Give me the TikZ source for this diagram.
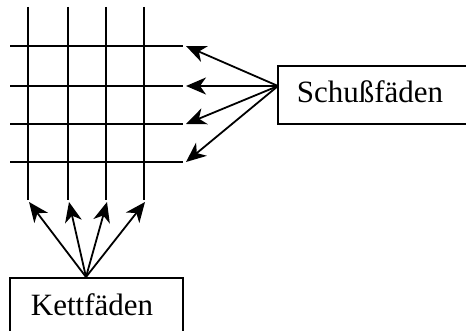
\documentclass[tikz,border=0pt]{standalone}
\usepackage{fontspec}
\setmainfont{Liberation Serif}
\usetikzlibrary{arrows.meta}
\begin{document}
\begin{tikzpicture}[x=1pt,y=-1pt,
  thread/.style={line width=2.2pt},
  label box/.style={draw,line width=2.2pt},
  pointer/.style={line width=1.8pt,-{Stealth[length=20pt 0,width=17pt 0,inset=6pt 0]}},
  caption/.style={font=\fontsize{31}{32}\selectfont,inner sep=0pt,anchor=base}]
\useasboundingbox (0,0) rectangle (466,331);
% warp threads (vertical)
\foreach \x [count=\i] in {28,68,106,144}{
  \draw[thread] (\x,7) -- (\x,200);
  \coordinate (w\i) at (\x+1,202);
}
% weft threads (horizontal)
\foreach \y [count=\i] in {46,86,124,162}{
  \draw[thread] (10,\y) -- (183,\y);
  \coordinate (s\i) at (186,\y);
}
% label boxes (running off the page edge)
\draw[label box] (278,66) rectangle (480,124);
\node[caption] (schuss) at (370,103) {Schußfäden};
\coordinate (sorigin) at (278,86);
\draw[label box] (10,278) rectangle (183,350);
\node[caption] (kett) at (92,316) {Kettfäden};
\coordinate (korigin) at (86,277);
% pointers
\foreach \i in {1,...,4}{
  \draw[pointer] (sorigin) -- (s\i);
  \draw[pointer] (korigin) -- (w\i);
}
\end{tikzpicture}
\end{document}
